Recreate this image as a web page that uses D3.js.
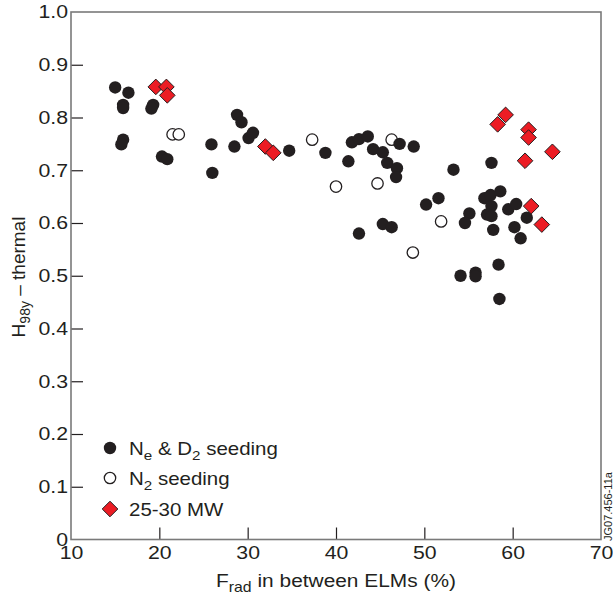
<!DOCTYPE html>
<html lang="en">
<head>
<meta charset="UTF-8">
<title>H98y vs Frad</title>
<style>
  html, body { margin: 0; padding: 0; background: #fff; overflow: hidden; }
  svg { display: block; }
  text { font-family: "Liberation Sans", Arial, Helvetica, sans-serif; fill: #231f20; }
</style>
</head>
<body>
<svg class="chart"></svg>
<script src="https://cdnjs.cloudflare.com/ajax/libs/d3/7.8.5/d3.min.js"></script>
<script>
// data: [Frad %, H98y]
const neD2Seeding = [
  [15.0, 0.857], [16.5, 0.847], [15.9, 0.824], [15.9, 0.818], [19.3, 0.824], [19.1, 0.817],
  [15.9, 0.758], [15.7, 0.749], [20.3, 0.726], [20.9, 0.721], [25.9, 0.749], [26.0, 0.695],
  [28.8, 0.805], [29.3, 0.791], [28.5, 0.745], [30.1, 0.761], [30.6, 0.771], [34.7, 0.737],
  [38.8, 0.733], [41.4, 0.717], [41.8, 0.753], [42.6, 0.759], [43.6, 0.764], [44.2, 0.740],
  [45.3, 0.734], [45.8, 0.714], [46.9, 0.704], [46.8, 0.687], [47.2, 0.750], [48.8, 0.745],
  [53.3, 0.701], [57.6, 0.714], [50.2, 0.635], [51.6, 0.647], [42.6, 0.580], [45.3, 0.598],
  [46.3, 0.592], [54.1, 0.500], [55.8, 0.506], [55.8, 0.499], [58.4, 0.521], [58.5, 0.456],
  [56.8, 0.647], [57.5, 0.653], [58.6, 0.660], [57.6, 0.632], [55.1, 0.618], [54.6, 0.600],
  [57.1, 0.616], [57.6, 0.613], [57.8, 0.587], [59.5, 0.626], [60.4, 0.636], [60.2, 0.592],
  [60.9, 0.571], [61.6, 0.610]
];
const n2Seeding = [
  [21.5, 0.768], [22.2, 0.768], [37.3, 0.758], [40.0, 0.669],
  [46.3, 0.758], [44.7, 0.675], [51.9, 0.603], [48.7, 0.544]
];
const highPower = [
  [19.6, 0.858], [20.8, 0.858], [20.9, 0.842], [32.0, 0.745], [32.9, 0.733],
  [59.2, 0.805], [58.3, 0.787], [61.8, 0.777], [61.8, 0.762], [64.5, 0.735],
  [61.4, 0.718], [62.1, 0.632], [63.3, 0.597]
];
const xTicks = [10, 20, 30, 40, 50, 60, 70];
const yTicks = [0, 0.1, 0.2, 0.3, 0.4, 0.5, 0.6, 0.7, 0.8, 0.9, 1.0];

const width = 613, height = 599;
const margin = {top: 12, left: 71, right: 12, bottom: 59.5};
const innerWidth = width - margin.left - margin.right;
const innerHeight = height - margin.top - margin.bottom;
const stretch = 1.15; // the lettering in the original is a bit wide

const svg = d3.select('.chart').attr('width', width).attr('height', height);
const chart = svg.append('g').attr('transform', `translate(${margin.left},${margin.top})`);

const xScale = d3.scaleLinear().domain([10, 70]).range([0, innerWidth]);
const yScale = d3.scaleLinear().domain([0, 1]).range([innerHeight, 0]);

// axes, ticks pointing inward
const xAxis = d3.axisBottom(xScale).tickValues(xTicks).tickSize(-12).tickPadding(7);
const yAxis = d3.axisLeft(yScale).tickValues(yTicks).tickSize(-12).tickPadding(3)
  .tickFormat(d => d === 0 ? '0' : d3.format('.1f')(d));

const gx = chart.append('g').attr('transform', `translate(0,${innerHeight})`).call(xAxis);
const gy = chart.append('g').call(yAxis);
[gx, gy].forEach(g => {
  g.select('.domain').remove();
  g.selectAll('.tick line').attr('stroke', '#231f20').attr('stroke-width', 1.2);
  g.selectAll('.tick text').attr('font-size', 18.5).attr('fill', '#231f20')
    .attr('transform', `scale(${stretch},1)`)
    .style('font-family', '"Liberation Sans", Arial, sans-serif');
});
gx.selectAll('.tick text').attr('y', 6).attr('dy', '0.71em');
gy.selectAll('.tick text').attr('x', -2.6);
gx.selectAll('.tick').filter(d => d === 10 || d === 70).select('line').remove();
gy.selectAll('.tick').filter(d => d === 0 || d === 1).select('line').remove();

// frame
chart.append('rect')
  .attr('width', innerWidth).attr('height', innerHeight)
  .attr('fill', 'none').attr('stroke', '#7a7a7a').attr('stroke-width', 1.6);

// points
const r = 6.2, dh = 7.8;
chart.selectAll('circle.open').data(n2Seeding).enter().append('circle')
  .attr('class', 'open')
  .attr('cx', d => xScale(d[0])).attr('cy', d => yScale(d[1])).attr('r', r - 0.5)
  .attr('fill', '#fff').attr('stroke', '#231f20').attr('stroke-width', 1.3);

chart.selectAll('circle.filled').data(neD2Seeding).enter().append('circle')
  .attr('class', 'filled')
  .attr('cx', d => xScale(d[0])).attr('cy', d => yScale(d[1])).attr('r', r)
  .attr('fill', '#231f20');

const diamond = `M0,${-dh}L${dh},0L0,${dh}L${-dh},0Z`;
chart.selectAll('path.diamond').data(highPower).enter().append('path')
  .attr('class', 'diamond')
  .attr('d', diamond)
  .attr('transform', d => `translate(${xScale(d[0])},${yScale(d[1])})`)
  .attr('fill', '#ec1c24').attr('stroke', '#231f20').attr('stroke-width', 1);

// legend
const legend = svg.append('g').attr('transform', 'translate(110,448)');
legend.append('circle').attr('cx', 0).attr('cy', 0).attr('r', r).attr('fill', '#231f20');
legend.append('circle').attr('cx', 0).attr('cy', 30).attr('r', r - 0.5)
  .attr('fill', '#fff').attr('stroke', '#231f20').attr('stroke-width', 1.3);
legend.append('path').attr('d', diamond).attr('transform', 'translate(0,61)')
  .attr('fill', '#ec1c24').attr('stroke', '#231f20').attr('stroke-width', 1);

const legendText = (y) => legend.append('text')
  .attr('transform', `translate(19,${y}) scale(1.17,1)`).attr('font-size', 17.5);

const l1 = legendText(6.5);
l1.append('tspan').text('N');
l1.append('tspan').attr('font-size', 13).attr('dy', 5).text('e');
l1.append('tspan').attr('dy', -5).text(' & D');
l1.append('tspan').attr('font-size', 13).attr('dy', 5).text('2');
l1.append('tspan').attr('dy', -5).text(' seeding');

const l2 = legendText(36.5);
l2.append('tspan').text('N');
l2.append('tspan').attr('font-size', 13).attr('dy', 5).text('2');
l2.append('tspan').attr('dy', -5).text(' seeding');

legendText(67.5).text('25-30 MW');

// axis titles
const xt = svg.append('text')
  .attr('transform', `translate(${margin.left + innerWidth / 2},586.5) scale(1.13,1)`)
  .attr('text-anchor', 'middle').attr('font-size', 18.5);
xt.append('tspan').text('F');
xt.append('tspan').attr('font-size', 14).attr('dy', 5).text('rad');
xt.append('tspan').attr('dy', -5).text(' in between ELMs (%)');

const yt = svg.append('text')
  .attr('transform', `translate(25,277) rotate(-90)`)
  .attr('text-anchor', 'middle').attr('font-size', 19);
yt.append('tspan').text('H');
yt.append('tspan').attr('font-size', 14).attr('dy', 5).text('98y');
yt.append('tspan').attr('dy', -5).text(' \u2013 thermal');

// figure id
svg.append('text')
  .attr('transform', 'translate(612,541) rotate(-90)')
  .attr('font-size', 11).attr('fill', '#231f20').text('JG07.456-11a');
</script>
</body>
</html>
